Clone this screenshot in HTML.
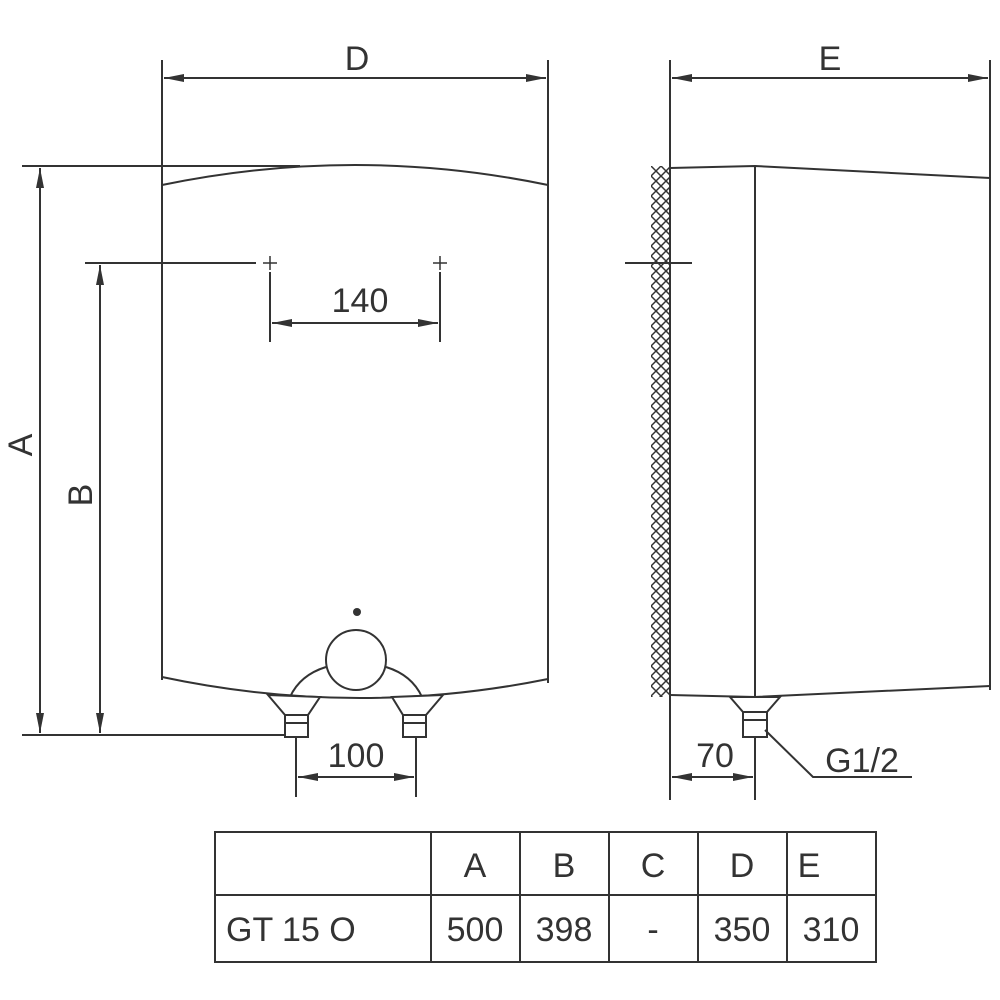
<!DOCTYPE html>
<html><head><meta charset="utf-8"><style>
html,body{margin:0;padding:0;background:#fff;}
svg{display:block;}
text{font-family:"Liberation Sans",Arial,sans-serif;fill:#333;}
</style></head><body>
<svg width="1000" height="1000" viewBox="0 0 1000 1000" xmlns="http://www.w3.org/2000/svg">
<defs>
<marker id="ar" viewBox="0 0 20 10" refX="20" refY="5" markerWidth="20" markerHeight="10" markerUnits="userSpaceOnUse" orient="auto-start-reverse">
<path d="M0,1 L20,5 L0,9 Z" fill="#333"/></marker>
<pattern id="hx" x="651" y="166" width="10" height="10" patternUnits="userSpaceOnUse">
<path d="M0,0 L10,10 M10,0 L0,10" stroke="#333" stroke-width="1.5"/></pattern>
</defs>
<g stroke="#333" stroke-width="2" fill="none">
<line x1="162" y1="60" x2="162" y2="680"/>
<line x1="548" y1="60" x2="548" y2="683"/>
<line x1="164" y1="78" x2="546" y2="78" marker-start="url(#ar)" marker-end="url(#ar)"/>
<path d="M162,185 Q355,145 548,185"/>
<path d="M162,677 Q355,718 548,679"/>
<line x1="22" y1="166" x2="300" y2="166"/>
<line x1="40" y1="168" x2="40" y2="733" marker-start="url(#ar)" marker-end="url(#ar)"/>
<line x1="22" y1="735" x2="290" y2="735"/>
<line x1="85" y1="263" x2="256" y2="263"/>
<line x1="100" y1="265" x2="100" y2="733" marker-start="url(#ar)" marker-end="url(#ar)"/>
<path d="M263,263 h14 M270,256 v14 M433,263 h14 M440,256 v14" stroke-width="1.5"/>
<line x1="270" y1="272" x2="270" y2="342"/>
<line x1="440" y1="272" x2="440" y2="342"/>
<line x1="272" y1="323" x2="438" y2="323" marker-start="url(#ar)" marker-end="url(#ar)"/>
<circle cx="356" cy="660" r="30"/>
<path d="M290,697 Q300,675 326,667"/>
<path d="M386,667 Q412,675 422,697"/>
<path d="M268,695 L320,697 L308,715 L285,715 Z" fill="#fff"/>
<rect x="285" y="715" width="23" height="22" fill="#fff"/>
<line x1="285" y1="723" x2="308" y2="723"/>
<path d="M392,697 L443,695 L426,715 L403,715 Z" fill="#fff"/>
<rect x="403" y="715" width="23" height="22" fill="#fff"/>
<line x1="403" y1="723" x2="426" y2="723"/>
<line x1="296" y1="737" x2="296" y2="797"/>
<line x1="416" y1="737" x2="416" y2="797"/>
<line x1="298" y1="777" x2="414" y2="777" marker-start="url(#ar)" marker-end="url(#ar)"/>
<rect x="651" y="166" width="19" height="531" fill="url(#hx)" stroke="none"/>
<line x1="670" y1="60" x2="670" y2="800"/>
<line x1="990" y1="60" x2="990" y2="690"/>
<line x1="672" y1="78" x2="988" y2="78" marker-start="url(#ar)" marker-end="url(#ar)"/>
<path d="M670,168 L755,166 L990,178"/>
<line x1="755" y1="166" x2="755" y2="697"/>
<path d="M670,695 L755,697 L990,686"/>
<line x1="625" y1="263" x2="692" y2="263"/>
<path d="M730,697 L780,697 L767,712 L743,712 Z" fill="#fff"/>
<rect x="743" y="712" width="24" height="25" fill="#fff"/>
<line x1="743" y1="720" x2="767" y2="720"/>
<line x1="755" y1="737" x2="755" y2="800"/>
<line x1="672" y1="777" x2="753" y2="777" marker-start="url(#ar)" marker-end="url(#ar)"/>
<polyline points="765,730 813,777 912,777"/>
<rect x="215" y="832" width="661" height="130"/>
<line x1="215" y1="895" x2="876" y2="895"/>
<line x1="431" y1="832" x2="431" y2="962"/>
<line x1="520" y1="832" x2="520" y2="962"/>
<line x1="609" y1="832" x2="609" y2="962"/>
<line x1="698" y1="832" x2="698" y2="962"/>
<line x1="787" y1="832" x2="787" y2="962"/>
</g>
<circle cx="357" cy="612" r="4" fill="#333"/>
<g font-size="34" text-anchor="middle">
<text x="357" y="70">D</text>
<text x="830" y="70">E</text>
<text x="360" y="312">140</text>
<text x="356" y="767">100</text>
<text x="715" y="767">70</text>
<text x="862" y="772">G1/2</text>
<text transform="translate(32,445) rotate(-90)">A</text>
<text transform="translate(92,495) rotate(-90)">B</text>
<text x="475" y="877">A</text>
<text x="564" y="877">B</text>
<text x="653" y="877">C</text>
<text x="742" y="877">D</text>
<text x="809" y="877">E</text>
<text x="475" y="941">500</text>
<text x="564" y="941">398</text>
<text x="653" y="941">-</text>
<text x="742" y="941">350</text>
<text x="831" y="941">310</text>
<text x="226" y="941" text-anchor="start">GT 15 O</text>
</g>
</svg>
</body></html>
